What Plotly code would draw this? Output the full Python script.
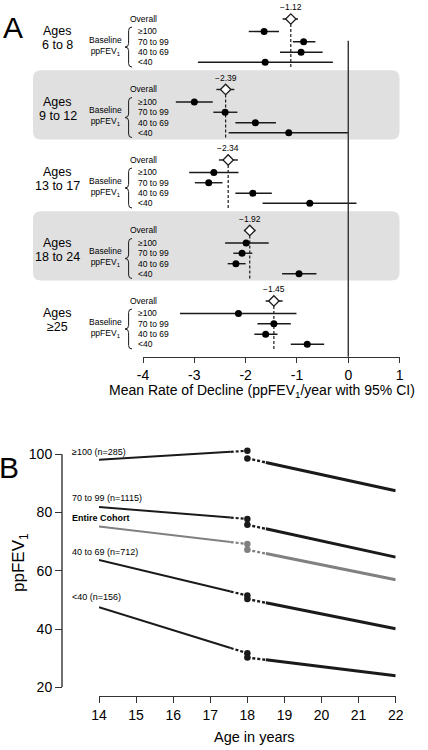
import plotly.graph_objects as go

W, H = 428, 750
FONT = "Liberation Sans, Arial, sans-serif"
INK = "#1a1a1a"

# ---------------- Panel A data ----------------
group_line1 = ["Ages", "Ages", "Ages", "Ages", "Ages"]
group_line2 = ["6 to 8", "9 to 12", "13 to 17", "18 to 24", "≥25"]
subgroups = ["≥100", "70 to 99", "40 to 69", "<40"]
overall_mean = [-1.12, -2.39, -2.34, -1.92, -1.45]
overall_lo = [-1.28, -2.57, -2.52, -2.03, -1.61]
overall_hi = [-0.98, -2.22, -2.15, -1.81, -1.28]
sub_mean = [
    [-1.64, -0.87, -0.92, -1.62],
    [-3.00, -2.40, -1.81, -1.16],
    [-2.62, -2.72, -1.86, -0.75],
    [-1.99, -2.07, -2.19, -0.96],
    [-2.14, -1.45, -1.61, -0.80],
]
sub_lo = [
    [-1.94, -1.08, -1.33, -2.93],
    [-3.36, -2.63, -2.20, -2.33],
    [-3.10, -2.99, -2.20, -1.67],
    [-2.40, -2.24, -2.35, -1.29],
    [-3.28, -1.77, -1.83, -1.12],
]
sub_hi = [
    [-1.35, -0.64, -0.50, -0.30],
    [-2.64, -2.16, -1.41, 0.00],
    [-2.14, -2.45, -1.49, 0.16],
    [-1.55, -1.87, -2.00, -0.62],
    [-1.01, -1.12, -1.38, -0.47],
]
xticks_A = [-4, -3, -2, -1, 0, 1]

# ---------------- Panel B data ----------------
labels_B = ["≥100 (n=285)", "70 to 99 (n=1115)", "Entire Cohort", "40 to 69 (n=712)", "<40 (n=156)"]
label_y_B = [100.9, 85.1, 78.0, 66.4, 51.1]
age_start, age_break, age_end = 14, 18, 22
v14 = [98.1, 81.9, 75.2, 63.7, 47.5]
v18_pre = [101.2, 77.8, 69.2, 51.5, 31.7]
v18_post = [98.6, 75.8, 67.2, 50.3, 30.2]
v22 = [87.5, 64.7, 56.9, 40.1, 24.0]
colors_B = [INK, INK, "#808080", INK, INK]
xticks_B = [14, 15, 16, 17, 18, 19, 20, 21, 22]
yticks_B = [20, 40, 60, 80, 100]


def px(x):
    return x / W


def py(y):
    return 1 - y / H


STEP = 7.0
OFF_OVERALL = 1.1
OFF_SUBS = [2.34, 3.36, 4.4, 5.4]
ROWPX = 10.07

fig = go.Figure()

for g in range(5):
    base = g * STEP
    fig.add_trace(go.Scatter(
        x=[overall_mean[g], overall_mean[g]], y=[base + OFF_OVERALL, base + 6.0],
        mode="lines", line=dict(color=INK, width=1.2, dash="3px,2px"),
        xaxis="x", yaxis="y", showlegend=False, hoverinfo="skip"))

for g in range(5):
    base = g * STEP
    ys = [base + o for o in OFF_SUBS]
    fig.add_trace(go.Scatter(
        x=sub_mean[g], y=ys, mode="markers",
        marker=dict(color="black", size=7),
        error_x=dict(type="data", symmetric=False,
                     array=[h - m for h, m in zip(sub_hi[g], sub_mean[g])],
                     arrayminus=[m - l for m, l in zip(sub_mean[g], sub_lo[g])],
                     width=0, thickness=1.4, color=INK),
        xaxis="x", yaxis="y", showlegend=False, cliponaxis=False))
    fig.add_trace(go.Scatter(
        x=[overall_mean[g]], y=[base + OFF_OVERALL], mode="markers",
        marker=dict(color="white", size=8, symbol="diamond", line=dict(color=INK, width=1.3)),
        error_x=dict(type="data", symmetric=False,
                     array=[overall_hi[g] - overall_mean[g]],
                     arrayminus=[overall_mean[g] - overall_lo[g]],
                     width=0, thickness=1.4, color=INK),
        xaxis="x", yaxis="y", showlegend=False, cliponaxis=False))


def along(x0, y0, x1, y1, x):
    return y0 + (y1 - y0) * (x - x0) / (x1 - x0)


PRE_END = 17.55
POST_START = 18.5
for i in range(len(labels_B)):
    c = colors_B[i]
    yb = along(age_start, v14[i], age_break, v18_pre[i], PRE_END)
    ya = along(age_break, v18_post[i], age_end, v22[i], POST_START)
    fig.add_trace(go.Scatter(x=[age_start, PRE_END], y=[v14[i], yb], mode="lines",
                             line=dict(color=c, width=2), xaxis="x2", yaxis="y2",
                             showlegend=False))
    fig.add_trace(go.Scatter(x=[PRE_END, age_break], y=[yb, v18_pre[i]], mode="lines",
                             line=dict(color=c, width=2.2, dash="3px,2px"), xaxis="x2", yaxis="y2",
                             showlegend=False))
    fig.add_trace(go.Scatter(x=[age_break, POST_START], y=[v18_post[i], ya], mode="lines",
                             line=dict(color=c, width=2.4, dash="3px,2px"), xaxis="x2", yaxis="y2",
                             showlegend=False))
    fig.add_trace(go.Scatter(x=[POST_START, age_end], y=[ya, v22[i]], mode="lines",
                             line=dict(color=c, width=3), xaxis="x2", yaxis="y2",
                             showlegend=False))
    fig.add_trace(go.Scatter(x=[age_break, age_break], y=[v18_pre[i], v18_post[i]], mode="markers",
                             marker=dict(color=c, size=6.5), xaxis="x2", yaxis="y2",
                             showlegend=False, cliponaxis=False))

shapes = []
for g in (1, 3):
    base = g * STEP
    x0, x1 = px(33), px(399.5)
    y0, y1 = base - 0.8, base + 6.07
    rx, ry = 8 / W, 0.8
    path = (f"M {x0+rx},{y0} L {x1-rx},{y0} Q {x1},{y0} {x1},{y0+ry} "
            f"L {x1},{y1-ry} Q {x1},{y1} {x1-rx},{y1} L {x0+rx},{y1} "
            f"Q {x0},{y1} {x0},{y1-ry} L {x0},{y0+ry} Q {x0},{y0} {x0+rx},{y0} Z")
    shapes.append(dict(type="path", path=path, xref="paper", yref="y",
                       fillcolor="#e0e0e0", line=dict(width=0), layer="below"))
for g in range(5):
    base = g * STEP
    top, bot = base + 1.9, base + 5.87
    mid = (top + bot) / 2
    xr, xm, xt = px(132), px(128.6), px(125)
    d = 0.35
    path = (f"M {xr},{top} Q {xm},{top} {xm},{top+d} L {xm},{mid-d} "
            f"Q {xm},{mid} {xt},{mid} Q {xm},{mid} {xm},{mid+d} "
            f"L {xm},{bot-d} Q {xm},{bot} {xr},{bot}")
    shapes.append(dict(type="path", path=path, xref="paper", yref="y",
                       line=dict(color=INK, width=1)))
shapes.append(dict(type="line", xref="x", yref="paper", x0=0, x1=0,
                   y0=py(40.7), y1=py(356.7), line=dict(color="#333333", width=1.4)))
shapes.append(dict(type="line", xref="paper", yref="y2", x0=px(62), x1=px(62),
                   y0=yticks_B[0], y1=yticks_B[-1], line=dict(color="#333333", width=1.4)))


def note(text, x, y, xref="paper", yref="paper", size=8.5, xanchor="center", **kw):
    return dict(text=text, x=x, y=y, xref=xref, yref=yref, xanchor=xanchor, yanchor="middle",
                showarrow=False, font=dict(family=FONT, size=size, color="black"), **kw)


ann = []
ann.append(note("A", px(12.5), py(28), size=30))
ann.append(note("B", px(8.5), py(467), size=30))
for g in range(5):
    base = g * STEP
    ann.append(note(group_line1[g], px(58), base + 2.33, yref="y", size=12.5))
    ann.append(note(group_line2[g], px(58), base + 3.7, yref="y", size=12.5))
    ann.append(note("Baseline<br>ppFEV<sub>1</sub>", px(123.5), base + 3.78, yref="y",
                    xanchor="right", align="center"))
    ann.append(note("Overall", px(127.5), base + OFF_OVERALL, yref="y", xanchor="left"))
    for k, s in enumerate(subgroups):
        ann.append(note(s, px(136), base + OFF_SUBS[k], yref="y", xanchor="left"))
    ann.append(note(f"{overall_mean[g]:.2f}".replace("-", "\u2212"), overall_mean[g],
                    base - 0.06, xref="x", yref="y"))
ann.append(note("Mean Rate of Decline (ppFEV<sub>1</sub>/year with 95% CI)", px(262), py(391),
                size=14))
for i, lab in enumerate(labels_B):
    txt = f"<b>{lab}</b>" if lab == "Entire Cohort" else lab
    ann.append(note(txt, px(69.5), label_y_B[i], yref="y2", xanchor="left", size=9))
ann.append(note("ppFEV<sub>1</sub>", px(20), py(563), size=17, textangle=-90))
ann.append(note("Age in years", px(254), py(737), size=14.5))

Y2_TOP = 104
Y2_PX_PER = (687.3 - 454.3) / 80.0

fig.update_layout(
    width=W, height=H, margin=dict(l=0, r=0, t=0, b=0, autoexpand=False),
    paper_bgcolor="white", plot_bgcolor="rgba(0,0,0,0)",
    showlegend=False, shapes=shapes, annotations=ann,
    xaxis=dict(domain=[px(143), px(399.6)], range=[-4, 1], anchor="free", position=py(356.7),
               automargin=False,
               showline=True, linecolor="#333333", linewidth=1.4, ticks="outside", ticklen=5,
               tickwidth=1.4, tickcolor="#333333", tickvals=xticks_A,
               ticktext=[str(v) for v in xticks_A], showgrid=False, zeroline=False,
               tickfont=dict(family=FONT, size=14, color="black")),
    yaxis=dict(domain=[py(360), 1], range=[OFF_OVERALL + (360 - 19) / ROWPX, OFF_OVERALL - 19 / ROWPX],
               automargin=False, visible=False, showgrid=False, zeroline=False),
    xaxis2=dict(domain=[px(99), px(395.7)], range=[14, 22], anchor="free", position=py(695.7),
                automargin=False,
                showline=True, linecolor="#333333", linewidth=1.4, ticks="outside", ticklen=6,
                tickwidth=1.4, tickcolor="#333333", tickvals=xticks_B, showgrid=False,
                zeroline=False, tickfont=dict(family=FONT, size=14, color="black")),
    yaxis2=dict(domain=[py(687.3), py(687.3 - (Y2_TOP - 20) * Y2_PX_PER)], range=[20, Y2_TOP],
                anchor="free", position=px(62), automargin=False,
                showline=False, ticks="outside", ticklen=7,
                tickwidth=1.4, tickcolor="#333333", tickvals=yticks_B, showgrid=False,
                zeroline=False, tickfont=dict(family=FONT, size=14, color="black")),
)

fig.write_html("out.html", config={"displayModeBar": False},
               post_script="document.body.style.margin='0px';")
